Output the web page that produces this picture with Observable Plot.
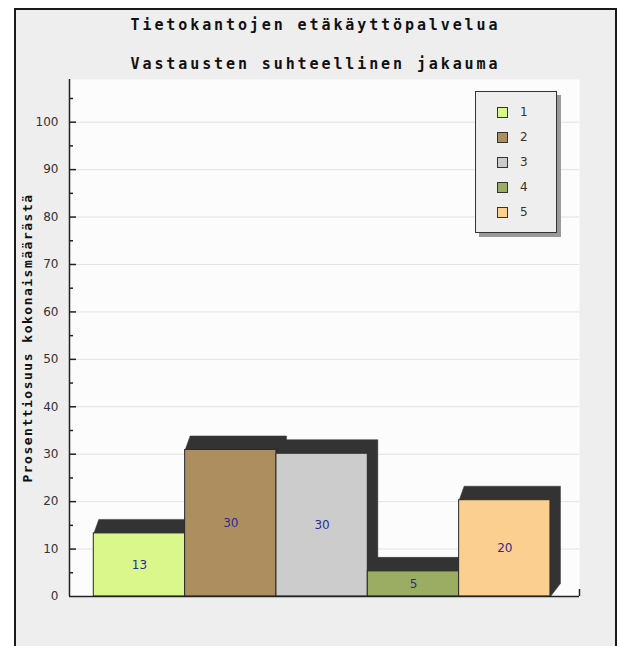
<!DOCTYPE html>
<html>
<head>
<meta charset="utf-8">
<script src="https://cdn.jsdelivr.net/npm/d3@7"></script>
<script src="https://cdn.jsdelivr.net/npm/@observablehq/plot@0.6"></script>
<style>
  body { margin: 0; background: #fff; width: 619px; height: 646px; overflow: hidden; }
  #frame { position: absolute; left: 14px; top: 8px; width: 599px; height: 640px;
    border: 2px solid #1a1a1a; border-bottom: none; background: #eeeeee; }
  .ttl { position: absolute; left: 0; width: 599px; text-align: center;
    font-family: "DejaVu Sans Mono", monospace; font-weight: bold; font-size: 15px;
    line-height: 18px; letter-spacing: 2.9px; color: #111; }
  #ylab { position: absolute; left: 11px; top: 328px; transform: translate(-50%, -50%) rotate(-90deg);
    white-space: nowrap; font-family: "DejaVu Sans Mono", monospace; font-weight: bold;
    font-size: 13px; letter-spacing: 1.5px; color: #111; }
  #chart { position: absolute; left: 0; top: 62px; }
  #legend { position: absolute; left: 459px; top: 81px; width: 80px; height: 140px;
    background: #eeeeee; border: 1px solid #333; box-shadow: 4px 4px 0 #9a9a9a; }
  .li { position: absolute; left: 21px; height: 16px; font-family: "DejaVu Sans", sans-serif;
    font-size: 12px; color: #333; line-height: 16px; }
  .sw { position: absolute; left: 0; top: 3px; width: 9px; height: 9px; border: 1px solid #333; }
  .lt { position: absolute; left: 23px; top: 0; }
</style>
</head>
<body>
<div id="frame">
  <div class="ttl" style="top:6px">Tietokantojen etäkäyttöpalvelua</div>
  <div class="ttl" style="top:45px">Vastausten suhteellinen jakauma</div>
  <div id="ylab">Prosenttiosuus kokonaismäärästä</div>
  <div id="chart"></div>
  <div id="legend"></div>
</div>
<script>
const categories = ["1", "2", "3", "4", "5"];
const values = [13.3, 30.9, 30.1, 5.3, 20.3];
const barLabels = ["13", "30", "30", "5", "20"];
const colors = ["#d9f78b", "#ad8f5f", "#cccccc", "#9aad62", "#fbcf8f"];
const yLabelTicks = [0, 10, 20, 30, 40, 50, 60, 70, 80, 90, 100];
const gridTicks = [10, 20, 30, 40, 50, 60, 70, 80, 90, 100];
const minorTicks = [5, 15, 25, 35, 45, 55, 65, 75, 85, 95, 105];

const W = 599, H = 574;
const mL = 53, mR = 36, mT = 7, mB = 50;
const xDomain = [-0.266, 5.318];
const yDomain = [0, 109];
const pxPerX = (W - mL - mR) / (xDomain[1] - xDomain[0]);
const pxPerY = (H - mT - mB) / (yDomain[1] - yDomain[0]);
const frameW = W - mL - mR;

const bars = categories.map((c, i) => ({cat: c, i, v: values[i], label: barLabels[i]}));

// 3D shadow polygons (depth offsets in pixels converted to data units)
const shadow = [];
bars.forEach(b => {
  const sx = 5 / pxPerX, dxr = 10 / pxPerX, dy = 14 / pxPerY, dyb = 13 / pxPerY;
  shadow.push({bar: b.cat, x: b.i, y: b.v});
  shadow.push({bar: b.cat, x: b.i + sx, y: b.v + dy});
  shadow.push({bar: b.cat, x: b.i + 1 + dxr, y: b.v + dy});
  shadow.push({bar: b.cat, x: b.i + 1 + dxr, y: dyb});
  shadow.push({bar: b.cat, x: b.i + 1, y: 0});
  shadow.push({bar: b.cat, x: b.i, y: b.v});
});

const chart = Plot.plot({
  width: W, height: H,
  marginLeft: mL, marginRight: mR, marginTop: mT, marginBottom: mB,
  style: {fontFamily: "DejaVu Sans, sans-serif", fontSize: "12px", background: "transparent"},
  x: {type: "linear", domain: xDomain, axis: null},
  y: {domain: yDomain},
  color: {domain: categories, range: colors},
  marks: [
    Plot.frame({fill: "#fcfcfc", stroke: null}),
    Plot.ruleY(gridTicks, {stroke: "#e2e2e2", strokeWidth: 1}),
    Plot.line(shadow, {x: "x", y: "y", z: "bar", fill: "#333333", stroke: "#333333", strokeWidth: 0.5, curve: "linear"}),
    Plot.rect(bars, {x1: "i", x2: d => d.i + 1, y1: 0, y2: "v", fill: "cat", stroke: "#2a2a2a", strokeWidth: 1}),
    Plot.text(bars, {x: d => d.i + 0.5, y: d => d.v / 2, text: "label", fill: "#2b2b96", fontSize: 12}),
    Plot.tickY(gridTicks, {y: d => d, insetRight: frameW - 7, stroke: "#222", strokeWidth: 1.5}),
    Plot.tickY(minorTicks, {y: d => d, insetRight: frameW - 4, stroke: "#222", strokeWidth: 1.5}),
    Plot.ruleX([xDomain[0]], {y1: yDomain[0], y2: yDomain[1], stroke: "#222", strokeWidth: 1.5}),
    Plot.ruleY([0], {x1: xDomain[0], x2: xDomain[1], stroke: "#222", strokeWidth: 1.5}),
    Plot.ruleX([xDomain[1]], {y1: 0, y2: 7 / pxPerY, stroke: "#222", strokeWidth: 1.5}),
    Plot.axisY({ticks: yLabelTicks, tickSize: 0, tickPadding: 11, label: null, fill: "#333", fontSize: 12})
  ]
});
document.getElementById("chart").appendChild(chart);

const legend = document.getElementById("legend");
categories.forEach((c, i) => {
  const item = document.createElement("div");
  item.className = "li";
  item.style.top = (12 + 25 * i) + "px";
  const sw = document.createElement("div");
  sw.className = "sw";
  sw.style.background = colors[i];
  const t = document.createElement("div");
  t.className = "lt";
  t.textContent = c;
  item.appendChild(sw);
  item.appendChild(t);
  legend.appendChild(item);
});
</script>
</body>
</html>
